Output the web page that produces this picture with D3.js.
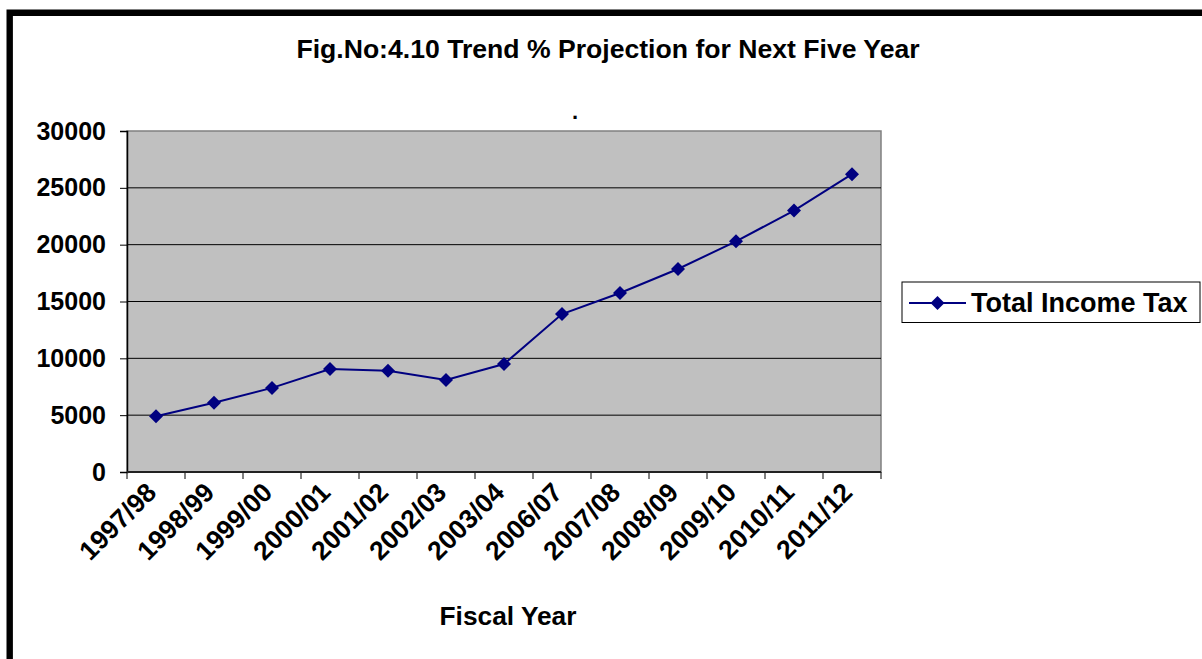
<!DOCTYPE html>
<html>
<head>
<meta charset="utf-8">
<script src="https://cdn.jsdelivr.net/npm/d3@7/dist/d3.min.js"></script>
<style>
  html, body { margin: 0; padding: 0; background: #fff; }
  svg { display: block; font-family: "Liberation Sans", Arial, sans-serif; font-weight: bold; }
</style>
</head>
<body>
<svg id="chart" width="1202" height="659"></svg>
<script>
// Fiscal years on the category axis
const categories = ["1997/98", "1998/99", "1999/00", "2000/01", "2001/02", "2002/03", "2003/04",
                    "2006/07", "2007/08", "2008/09", "2009/10", "2010/11", "2011/12"];
// Total income tax (actual and projected)
const totalIncomeTax = [4900, 6100, 7400, 9060, 8900, 8100, 9500,
                        13900, 15750, 17860, 20290, 23000, 26200];
// Value axis ticks
const yTicks = [0, 5000, 10000, 15000, 20000, 25000, 30000];
const seriesName = "Total Income Tax";

const svg = d3.select("#chart");
const W = 1202, H = 659;
const plot = { left: 127, right: 881, top: 131, bottom: 472 };
const navy = "#000080";

// heavy outer frame (top and left edges)
svg.append("path")
  .attr("d", `M9.7,${H} L9.7,12.7 L${W},12.7`)
  .attr("fill", "none").attr("stroke", "#000").attr("stroke-width", 6.4);

// title
svg.append("text").attr("x", 608).attr("y", 58)
  .attr("text-anchor", "middle").attr("font-size", 26.6)
  .text("Fig.No:4.10 Trend % Projection for Next Five Year");
svg.append("text").attr("x", 575).attr("y", 119)
  .attr("text-anchor", "middle").attr("font-size", 22).text(".");

const x = d3.scaleBand().domain(categories).range([plot.left, plot.right]).padding(0);
const y = d3.scaleLinear().domain([0, 30000]).range([plot.bottom, plot.top]);

// plot background
svg.append("rect")
  .attr("x", plot.left).attr("y", plot.top)
  .attr("width", plot.right - plot.left).attr("height", plot.bottom - plot.top)
  .attr("fill", "#c0c0c0").attr("stroke", "#808080").attr("stroke-width", 1.5);

// horizontal gridlines
svg.append("g").selectAll("line")
  .data(yTicks.filter(d => d > 0 && d < 30000))
  .join("line")
  .attr("x1", plot.left).attr("x2", plot.right)
  .attr("y1", d => y(d)).attr("y2", d => y(d))
  .attr("stroke", "#000").attr("stroke-width", 1);

// value axis
const yAxis = svg.append("g")
  .attr("transform", `translate(${plot.left},0)`)
  .call(d3.axisLeft(y).tickValues(yTicks).tickSize(7).tickPadding(14).tickFormat(d3.format("d")));
yAxis.select(".domain").attr("stroke", "#000").attr("stroke-width", 1.5);
yAxis.selectAll(".tick line").attr("stroke", "#000").attr("stroke-width", 1);
yAxis.selectAll("text").attr("font-size", 25).attr("font-weight", "bold")
  .attr("font-family", "'Liberation Sans', Arial, sans-serif").attr("fill", "#000");

// category axis: ticks on the category boundaries
const boundaries = categories.map(c => x(c)).concat([x(categories[categories.length - 1]) + x.bandwidth()]);
svg.append("g").selectAll("line").data(boundaries).join("line")
  .attr("x1", d => d).attr("x2", d => d)
  .attr("y1", plot.bottom).attr("y2", plot.bottom + 7)
  .attr("stroke", "#000").attr("stroke-width", 1);
svg.append("line")
  .attr("x1", plot.left).attr("x2", plot.right)
  .attr("y1", plot.bottom).attr("y2", plot.bottom)
  .attr("stroke", "#222").attr("stroke-width", 2);

// rotated category labels
svg.append("g").selectAll("text").data(categories).join("text")
  .attr("transform", d => `translate(${x(d) + x.bandwidth() / 2 + 2},${plot.bottom + 22}) rotate(-45)`)
  .attr("text-anchor", "end").attr("font-size", 26.5)
  .text(d => d);

// axis title
svg.append("text").attr("x", 508).attr("y", 625)
  .attr("text-anchor", "middle").attr("font-size", 26.3).text("Fiscal Year");

// series line
const line = d3.line()
  .x((d, i) => x(categories[i]) + x.bandwidth() / 2)
  .y(d => y(d));
svg.append("path").datum(totalIncomeTax)
  .attr("d", line).attr("fill", "none")
  .attr("stroke", navy).attr("stroke-width", 2);

// diamond markers
const diamond = d3.symbol().type(d3.symbolSquare).size(98);
svg.append("g").selectAll("path").data(totalIncomeTax).join("path")
  .attr("d", diamond)
  .attr("transform", (d, i) => `translate(${x(categories[i]) + x.bandwidth() / 2},${y(d)}) rotate(45)`)
  .attr("fill", navy);

// legend
const lg = svg.append("g");
lg.append("rect").attr("x", 902).attr("y", 282).attr("width", 298).attr("height", 40.5)
  .attr("fill", "#fff").attr("stroke", "#000").attr("stroke-width", 1);
lg.append("line").attr("x1", 909).attr("x2", 966).attr("y1", 303).attr("y2", 303)
  .attr("stroke", navy).attr("stroke-width", 2);
lg.append("path").attr("d", diamond)
  .attr("transform", "translate(937.5,303) rotate(45)").attr("fill", navy);
lg.append("text").attr("x", 971).attr("y", 312).attr("font-size", 27).text(seriesName);
</script>
</body>
</html>
